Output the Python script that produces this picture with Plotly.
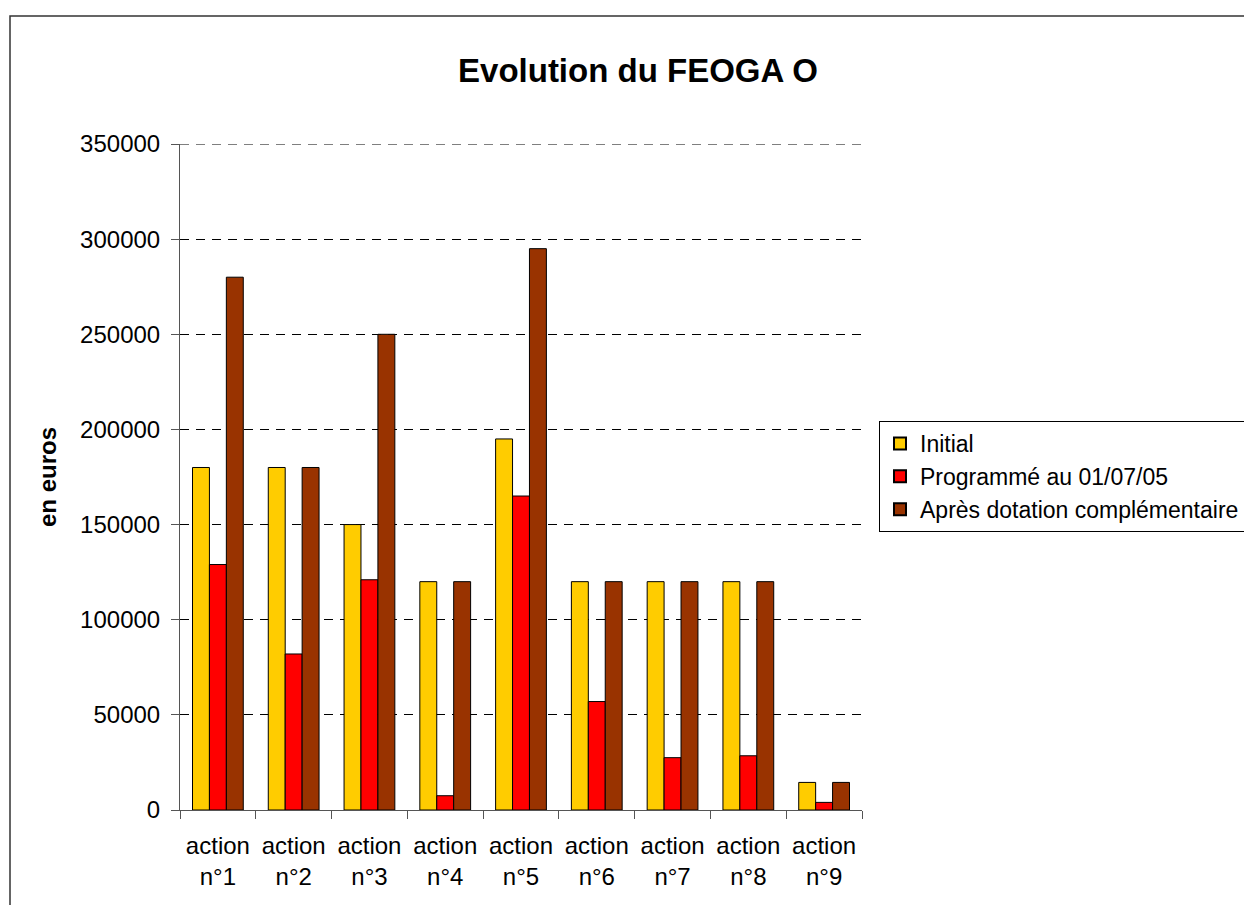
import plotly.graph_objects as go

# Données
actions = ["action<br>n°1", "action<br>n°2", "action<br>n°3", "action<br>n°4", "action<br>n°5",
           "action<br>n°6", "action<br>n°7", "action<br>n°8", "action<br>n°9"]
initial = [180000, 180000, 150000, 120000, 195000, 120000, 120000, 120000, 14500]
programme = [129000, 82000, 121000, 7500, 165000, 57000, 27500, 28500, 4000]
apres = [280000, 180000, 250000, 120000, 295000, 120000, 120000, 120000, 14500]
y_ticks = [0, 50000, 100000, 150000, 200000, 250000, 300000, 350000]
y_labels = [str(v) for v in y_ticks]

police = "Arial, 'Liberation Sans', sans-serif"

# la page html ajoute une marge de 8px autour de la figure
W, H = 1244, 897

fig = go.Figure()
fig.add_trace(go.Bar(x=actions, y=initial, name="Initial",
                     marker=dict(color="#FFCC00", line=dict(color="black", width=1))))
fig.add_trace(go.Bar(x=actions, y=programme, name="Programmé au 01/07/05",
                     marker=dict(color="#FF0000", line=dict(color="black", width=1))))
fig.add_trace(go.Bar(x=actions, y=apres, name="Après dotation complémentaire",
                     marker=dict(color="#993300", line=dict(color="black", width=1))))

fig.update_layout(
    width=W, height=H,
    margin=dict(l=172, r=390, t=136, b=95),
    paper_bgcolor="white", plot_bgcolor="white",
    font=dict(family=police, size=24, color="black"),
    barmode="group", bargap=0.33, bargroupgap=0,
    title=dict(text="<b>Evolution du FEOGA O</b>", x=(638 - 180) / 682, xref="paper",
               xanchor="center", y=1 - 62 / H, yanchor="middle",
               font=dict(size=33, family=police)),
    legend=dict(xref="container", yref="container", x=871 / W, y=1 - 413 / H,
                xanchor="left", yanchor="top",
                bordercolor="black", borderwidth=1, font=dict(size=23),
                tracegroupgap=0, itemsizing="constant"),
    showlegend=True,
)

fig.update_xaxes(showline=True, linecolor="#555555", linewidth=1,
                 ticks="outside", ticklen=8, tickcolor="#555555",
                 tickson="boundaries", showgrid=False, ticklabelstandoff=14)
fig.update_yaxes(range=[0, 350000], tickvals=y_ticks, ticktext=y_labels, showline=True,
                 linecolor="#555555", linewidth=1, ticks="outside", ticklen=8,
                 tickcolor="#555555", showgrid=True, gridcolor="black",
                 griddash="9px,7px", gridwidth=1, zeroline=False,
                 ticklabelstandoff=6)

# ligne de quadrillage du haut (350000), masquée par plotly au bord
fig.add_shape(type="line", xref="paper", yref="y", x0=0, x1=1,
              y0=y_ticks[-1], y1=y_ticks[-1],
              line=dict(color="black", width=1, dash="9px,7px"))

fig.add_annotation(text="<b>en euros</b>", textangle=-90, x=-133 / 682, y=0.5,
                   xref="paper", yref="paper", xanchor="center", yanchor="middle",
                   showarrow=False, font=dict(size=24))

# cadre extérieur du graphique
fig.add_shape(type="rect", xref="paper", yref="paper",
              x0=-170 / 682, y0=-0.3, x1=1.7, y1=794 / 666,
              line=dict(color="#333333", width=1.5))

fig.write_html("out.html")
